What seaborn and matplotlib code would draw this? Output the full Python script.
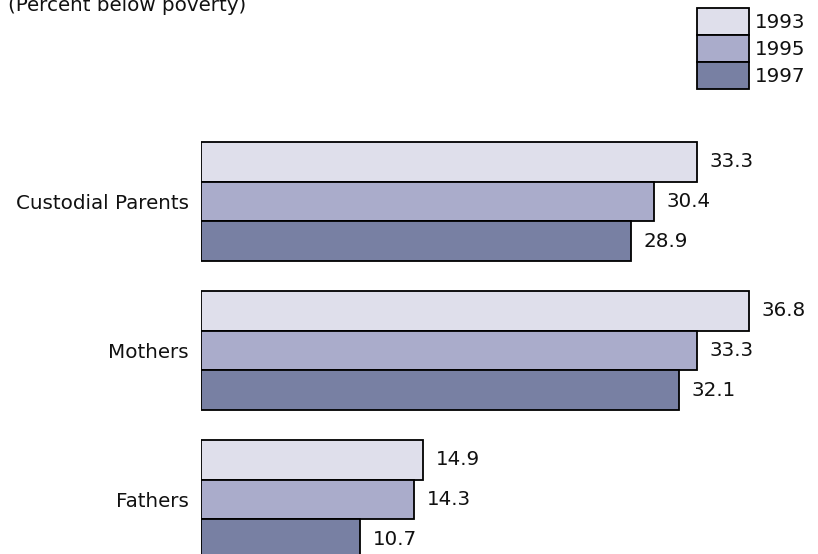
import matplotlib
matplotlib.use("Agg")
import matplotlib.pyplot as plt
import seaborn as sns
import pandas as pd

categories = ["Custodial Parents", "Mothers", "Fathers"]
years = ["1993", "1995", "1997"]
values_1993 = [33.3, 36.8, 14.9]
values_1995 = [30.4, 33.3, 14.3]
values_1997 = [28.9, 32.1, 10.7]
colors = ["#dfdfeb", "#aaaccb", "#7880a3"]

rows = []
for yr, vals in zip(years, [values_1993, values_1995, values_1997]):
    for c, v in zip(categories, vals):
        rows.append({"group": c, "year": yr, "value": v})
df = pd.DataFrame(rows)

sns.set_theme(style="white")
plt.rcParams["font.family"] = ["DejaVu Sans"]

W, H = 818, 554
fig = plt.figure(figsize=(W / 100, H / 100), dpi=100)
left_px = 201
ax = fig.add_axes([left_px / W, 0, (W - left_px) / W, 1])

sns.barplot(data=df, y="group", x="value", hue="year", order=categories,
            hue_order=years, palette=colors, orient="h", width=0.8,
            edgecolor="black", linewidth=1.3, saturation=1, ax=ax)

px_per_unit = (749 - 201) / 36.8
ax.set_xlim(0, (W - left_px) / px_per_unit)
group_px = 149
center0 = 201.5
ax.set_ylim((H - center0) / group_px, -center0 / group_px)

fs = 14.3
for cont in ax.containers:
    ax.bar_label(cont, fmt="%.1f", padding=9, fontsize=fs, color="#111111")

for s in ax.spines.values():
    s.set_visible(False)
ax.set_xticks([])
ax.set_xlabel("")
ax.set_ylabel("")
ax.tick_params(axis="y", length=0, pad=8.6, labelsize=fs, labelcolor="#111111")

fs_px = fs * 100 / 72
hh = (27 / fs_px - 0.245) / 0.65
handles, labels = ax.get_legend_handles_labels()
leg = ax.legend(handles, labels, loc="upper left",
                bbox_to_anchor=(697 / W, 1 - 8 / H), bbox_transform=fig.transFigure,
                frameon=False, fontsize=fs, handlelength=52 / fs_px,
                handleheight=hh, labelspacing=0, handletextpad=6 / fs_px,
                borderpad=0, borderaxespad=0, title=None)
for t in leg.get_texts():
    t.set_color("#111111")

fig.text(8 / W, 1 - 11 / H, "(Percent below poverty)", fontsize=fs, va="baseline",
         ha="left", color="#111111")

fig.savefig("out.png", dpi=100)
